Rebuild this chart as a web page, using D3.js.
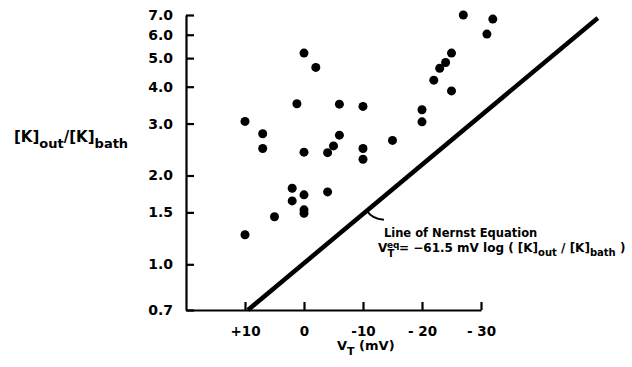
<!DOCTYPE html>
<html>
<head>
<meta charset="utf-8">
<script src="https://cdn.jsdelivr.net/npm/d3@7"></script>
<style>
  html, body { margin: 0; padding: 0; background: #fff; }
  svg { display: block; font-family: "DejaVu Sans", "Liberation Sans", sans-serif; font-weight: bold; }
</style>
</head>
<body>
<div id="chart"></div>
<script>
// Membrane potential V_T (mV) for each measurement
const vT = [10, 10, 7, 7, 5, 2, 2, 1.2, 0, -2, 0, 0, 0, 0, -4, -4, -5, -6, -6,
  -10, -10, -10, -15, -20, -20, -22, -23, -24, -25, -25, -27, -31, -32];
// [K]out / [K]bath for each measurement
const kRatio = [3.05, 1.26, 2.77, 2.47, 1.45, 1.81, 1.64, 3.5, 5.2, 4.65, 2.4, 1.72, 1.53, 1.49, 1.76, 2.39, 2.52, 2.74, 3.49,
  3.43, 2.47, 2.27, 2.63, 3.34, 3.04, 4.21, 4.62, 4.83, 5.2, 3.87, 7.0, 6.03, 6.78];

// Nernst line ends: [V_T, ratio]
const nernstLine = [[9.5, 0.7], [-49.8, 6.84]];

const yTicks = [0.7, 1.0, 1.5, 2.0, 3.0, 4.0, 5.0, 6.0, 7.0];
const xTicks = [10, 0, -10, -20, -30];
const xTickLabels = ['+10', '0', '-10', '- 20', '- 30'];

const width = 632, height = 367;

const svg = d3.select('#chart')
  .append('svg')
  .attr('width', width)
  .attr('height', height);

const x = d3.scaleLinear().domain([20, -30]).range([186, 481]);
const y = d3.scaleLog().domain([0.7, 7]).range([310, 15]);

// Y axis, ticks pointing inward
const yAxis = svg.append('g')
  .attr('transform', `translate(${x(20)},0)`)
  .call(d3.axisLeft(y)
    .tickValues(yTicks)
    .tickFormat(d3.format('.1f'))
    .tickSizeInner(-8)
    .tickSizeOuter(0)
    .tickPadding(13));

// X axis, ticks pointing up
const xAxis = svg.append('g')
  .attr('transform', `translate(0,${y(0.7)})`)
  .call(d3.axisBottom(x)
    .tickValues(xTicks)
    .tickFormat((d, i) => xTickLabels[i])
    .tickSizeInner(-8)
    .tickSizeOuter(0)
    .tickPadding(16));

[yAxis, xAxis].forEach(ax => {
  ax.select('.domain').attr('stroke', '#000').attr('stroke-width', 2.2);
  ax.selectAll('.tick line').attr('stroke', '#000').attr('stroke-width', 2.2);
  ax.selectAll('.tick text')
    .attr('fill', '#000')
    .attr('font-weight', 'bold')
    .attr('font-family', '"DejaVu Sans", sans-serif');
});
yAxis.selectAll('.tick text').attr('font-size', 14);
xAxis.selectAll('.tick text').attr('font-size', 13.5);

// Nernst line
svg.append('line')
  .attr('x1', x(nernstLine[0][0]))
  .attr('y1', y(nernstLine[0][1]))
  .attr('x2', x(nernstLine[1][0]))
  .attr('y2', y(nernstLine[1][1]))
  .attr('stroke', '#000')
  .attr('stroke-width', 4.5);

// Data points
svg.selectAll('circle.pt')
  .data(vT.map((v, i) => [v, kRatio[i]]))
  .join('circle')
  .attr('class', 'pt')
  .attr('cx', d => x(d[0]))
  .attr('cy', d => y(d[1]))
  .attr('r', 4.5)
  .attr('fill', '#000');

// Y axis label
const yLab = svg.append('text')
  .attr('x', 14)
  .attr('y', 142)
  .attr('font-size', 15);
yLab.append('tspan').text('[K]');
yLab.append('tspan').attr('dy', 6).attr('font-size', 13).text('out');
yLab.append('tspan').attr('dy', -6).text('/[K]');
yLab.append('tspan').attr('dy', 6).attr('font-size', 13).text('bath');

// X axis label
const xLab = svg.append('text')
  .attr('x', 337)
  .attr('y', 350)
  .attr('font-size', 13);
xLab.append('tspan').text('V');
xLab.append('tspan').attr('dy', 5).attr('font-size', 11).text('T');
xLab.append('tspan').attr('dy', -5).text(' (mV)');

// Annotation with leader hook from the Nernst line
const t = 0.34;
const hx = x(nernstLine[0][0]) + t * (x(nernstLine[1][0]) - x(nernstLine[0][0]));
const hy = y(nernstLine[0][1]) + t * (y(nernstLine[1][1]) - y(nernstLine[0][1]));
svg.append('path')
  .attr('d', `M${hx},${hy} Q${hx + 5},${hy + 8} ${hx + 17},${hy + 9}`)
  .attr('fill', 'none')
  .attr('stroke', '#000')
  .attr('stroke-width', 2);

svg.append('text')
  .attr('x', hx + 17)
  .attr('y', 237)
  .attr('font-size', 11.5)
  .text('Line of Nernst Equation');

const ann = svg.append('g');
ann.append('text').attr('x', 378).attr('y', 252).attr('font-size', 12).text('V');
ann.append('text').attr('x', 387).attr('y', 247.5).attr('font-size', 9).text('eq');
ann.append('text').attr('x', 387.5).attr('y', 257).attr('font-size', 10).text('T');
const eq = ann.append('text').attr('x', 399).attr('y', 252).attr('font-size', 12);
eq.append('tspan').text('= \u221261.5 mV log ( [K]');
eq.append('tspan').attr('dy', 4).attr('font-size', 10).text('out');
eq.append('tspan').attr('dy', -4).text(' / [K]');
eq.append('tspan').attr('dy', 4).attr('font-size', 10).text('bath');
eq.append('tspan').attr('dy', -4).text(' )');
</script>
</body>
</html>
